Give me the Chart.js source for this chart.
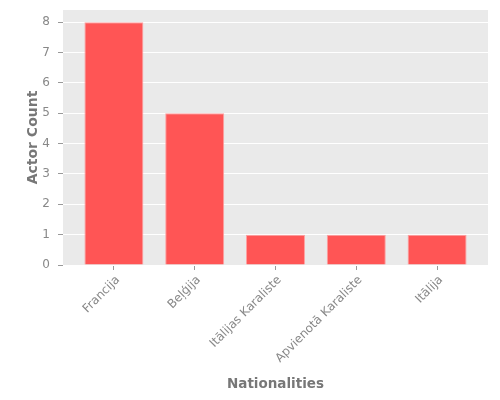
<!DOCTYPE html>
<html>
<head>
<meta charset="utf-8">
<script src="https://cdn.jsdelivr.net/npm/chart.js@4.4.1/dist/chart.umd.min.js"></script>
<style>
html,body{margin:0;padding:0;background:#fff;}
#wrap{width:500px;height:400px;position:relative;}
</style>
</head>
<body>
<div id="wrap"><canvas id="c" width="500" height="400"></canvas></div>
<script>
const categories = ["Francija", "Beļģija", "Itālijas Karaliste", "Apvienotā Karaliste", "Itālija"];
const actorCounts = [8, 5, 1, 1, 1];
const yTicks = [0, 1, 2, 3, 4, 5, 6, 7, 8];

const points = categories.map((c, i) => ({x: i, y: actorCounts[i]}));

const panelBg = {
  id: 'panelBg',
  beforeDraw(chart) {
    const {ctx, chartArea: a} = chart;
    ctx.save();
    ctx.fillStyle = '#fff';
    ctx.fillRect(0, 0, chart.width, chart.height);
    ctx.fillStyle = '#EAEAEA';
    ctx.fillRect(a.left, a.top, a.right - a.left, a.bottom - a.top);
    ctx.restore();
  }
};

new Chart(document.getElementById('c'), {
  type: 'bar',
  data: {
    datasets: [{
      data: points,
      backgroundColor: '#FF5555',
      borderColor: 'rgba(255,160,160,1)',
      borderWidth: 1,
      categoryPercentage: 1,
      barPercentage: 0.73
    }]
  },
  options: {
    responsive: false,
    animation: false,
    devicePixelRatio: 1,
    layout: {padding: {top: 10, right: 12, left: 0, bottom: 0}},
    plugins: {legend: {display: false}, tooltip: {enabled: false}},
    scales: {
      x: {
        type: 'linear',
        offset: false,
        min: -0.63,
        max: 4.63,
        afterBuildTicks(s) { s.ticks = categories.map((c, i) => ({value: i})); },
        afterFit(s) { s.height = 135; s.paddingLeft = 0; s.paddingRight = 0; },
        ticks: {
          callback: (v) => categories[v],
          maxRotation: 45,
          minRotation: 45,
          autoSkip: false,
          color: '#888',
          padding: 3,
          labelOffset: 4,
          font: {family: 'DejaVu Sans', size: 12}
        },
        grid: {offset: false, drawOnChartArea: false, color: '#fff', lineWidth: 1, tickColor: '#999', tickLength: 5},
        border: {display: false},
        title: {
          display: true,
          text: 'Nationalities',
          color: '#777',
          font: {family: 'DejaVu Sans', size: 13.5, weight: 'bold'},
          padding: {top: 0, bottom: 7}
        }
      },
      y: {
        min: 0,
        max: 8.4,
        afterBuildTicks(s) { s.ticks = yTicks.map(v => ({value: v})); },
        afterFit(s) { s.width = 63; s.paddingTop = 0; s.paddingBottom = 0; },
        ticks: {
          color: '#888',
          padding: 8,
          font: {family: 'DejaVu Sans', size: 12}
        },
        grid: {color: '#fff', lineWidth: 1, tickColor: '#999', tickLength: 5},
        border: {display: false},
        title: {
          display: true,
          text: 'Actor Count',
          color: '#777',
          font: {family: 'DejaVu Sans', size: 14, weight: 'bold'},
          padding: {top: 25, bottom: 0}
        }
      }
    }
  },
  plugins: [panelBg]
});
</script>
</body>
</html>
